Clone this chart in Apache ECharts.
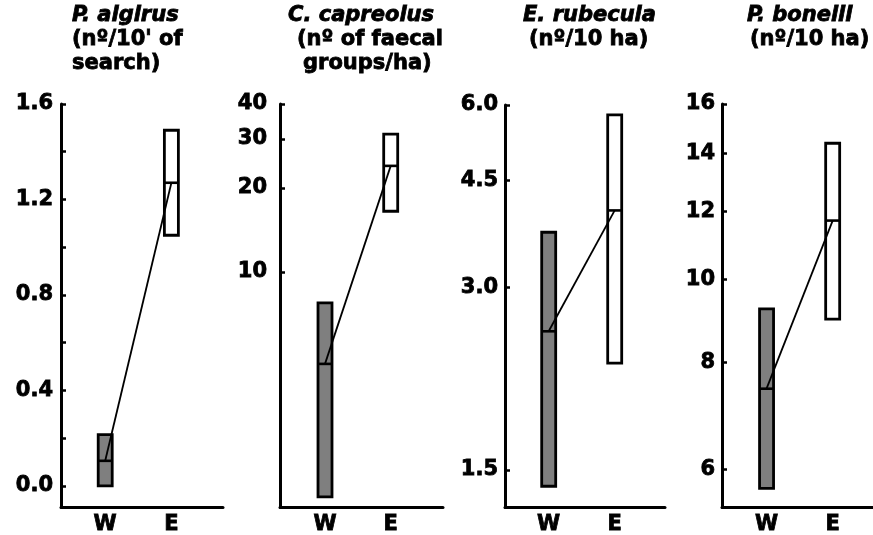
<!DOCTYPE html>
<html>
<head>
<meta charset="utf-8">
<script src="https://cdn.jsdelivr.net/npm/echarts@6/dist/echarts.min.js"></script>
<style>html,body{margin:0;padding:0;background:#fff}#c{width:873px;height:535px}</style>
</head>
<body>
<div id="c"></div>
<script>
// ---- data ----
const groups = ['W', 'E'];
const groupX = [1, 2];

const algirusLow  = [0.0, 1.05];
const algirusMed  = [0.105, 1.27];
const algirusHigh = [0.215, 1.49];

const capreolusLow  = [1.56, 16.5];
const capreolusMed  = [4.68, 24.0];
const capreolusHigh = [7.75, 31.2];

const rubeculaLow  = [1.41, 2.25];
const rubeculaMed  = [2.54, 4.02];
const rubeculaHigh = [3.70, 5.78];

const bonelliLow  = [5.70, 8.98];
const bonelliMed  = [7.45, 11.7];
const bonelliHigh = [9.23, 14.4];

const algirusTicks = [0.0, 0.4, 0.8, 1.2, 1.6];
const algirusMinorTicks = [0.0, 0.2, 0.4, 0.6, 0.8, 1.0, 1.2, 1.4, 1.6];
const capreolusTicks = [10, 20, 30, 40];
const rubeculaTicks = [1.5, 3.0, 4.5, 6.0];
const bonelliTicks = [6, 8, 10, 12, 14, 16];

const algirusTitle = ['P. algirus', "(nº/10' of", 'search)'];
const capreolusTitle = ['C. capreolus', '(nº of faecal', 'groups/ha)'];
const rubeculaTitle = ['E. rubecula', '(nº/10 ha)'];
const bonelliTitle = ['P. bonelli', '(nº/10 ha)'];

// ---- layout ----
const FONT = 'DejaVu Sans';
const lg = Math.log10;
const panels = [
  {low: algirusLow, med: algirusMed, high: algirusHigh, ticks: algirusTicks, minor: algirusMinorTicks,
   log: false, dec: 1, grid: {left: 61, top: 104, width: 162, height: 405.5},
   ymin: -0.091, ymax: 1.6, xmin: 0.332, xmax: 2.78, margin: 8,
   title: algirusTitle, tl: [72, 72, 72]},
  {low: capreolusLow, med: capreolusMed, high: capreolusHigh, ticks: capreolusTicks, minor: null,
   log: true, dec: 0, grid: {left: 280, top: 104, width: 163, height: 405.5},
   ymin: 0.155, ymax: lg(40), xmin: 0.315, xmax: 2.796, margin: 13,
   title: capreolusTitle, tl: [288, 297, 303]},
  {low: rubeculaLow, med: rubeculaMed, high: rubeculaHigh, ticks: rubeculaTicks, minor: null,
   log: true, dec: 1, grid: {left: 505, top: 105, width: 160, height: 404.5},
   ymin: 0.114, ymax: lg(6), xmin: 0.338, xmax: 2.762, margin: 7,
   title: rubeculaTitle, tl: [523, 529]},
  {low: bonelliLow, med: bonelliMed, high: bonelliHigh, ticks: bonelliTicks, minor: null,
   log: true, dec: 0, grid: {left: 722, top: 104, width: 151, height: 405.5},
   ymin: 0.7335, ymax: lg(16), xmin: 0.326, xmax: 2.61, margin: 7,
   title: bonelliTitle, tl: [747, 750]}
];

const txt = {color: '#000', fontFamily: FONT, fontWeight: 'bold', fontSize: 21,
             textBorderColor: '#000', textBorderWidth: 0.8};
const lineTops = [5, 29, 53];

function renderBox(params, api) {
  const x = api.value(0), lo = api.value(1), md = api.value(2), hi = api.value(3);
  const a = api.coord([x, hi]), b = api.coord([x, lo]), m = api.coord([x, md]);
  const w = 14;
  return {type: 'group', children: [
    {type: 'rect', shape: {x: a[0] - w / 2, y: a[1], width: w, height: b[1] - a[1]},
     style: {fill: params.dataIndex === 0 ? '#7f7f7f' : '#ffffff', stroke: '#000', lineWidth: 2.8}},
    {type: 'line', shape: {x1: a[0] - w / 2, y1: m[1], x2: a[0] + w / 2, y2: m[1]},
     style: {stroke: '#000', lineWidth: 2.6}}
  ]};
}

const option = {animation: false, backgroundColor: '#fff', title: [], grid: [], xAxis: [], yAxis: [], series: []};

panels.forEach((p, i) => {
  const tf = p.log ? lg : (v => v);
  p.title.forEach((t, j) => {
    option.title.push({text: t, left: p.tl[j], top: lineTops[j], padding: 0,
      textStyle: Object.assign({}, txt, {fontStyle: j === 0 ? 'italic' : 'normal', fontSize: 21})});
  });
  option.grid.push(p.grid);
  option.xAxis.push({
    type: 'value', gridIndex: i, min: p.xmin, max: p.xmax,
    axisLine: {show: true, onZero: false, lineStyle: {color: '#000', width: 3}},
    axisTick: {show: false}, splitLine: {show: false},
    axisLabel: Object.assign({}, txt, {customValues: groupX, margin: 6,
      formatter: v => groups[groupX.indexOf(v)] || ''})
  });
  option.yAxis.push({
    type: 'value', gridIndex: i, min: p.ymin, max: p.ymax,
    axisLine: {show: true, onZero: false, lineStyle: {color: '#000', width: 3}},
    axisTick: {show: true, inside: true, length: 5, lineStyle: {color: '#000', width: 2.5},
      customValues: (p.minor || p.ticks).map(tf)},
    splitLine: {show: false},
    axisLabel: Object.assign({}, txt, {customValues: p.ticks.map(tf), margin: p.margin,
      formatter: v => (p.log ? Math.pow(10, v) : v).toFixed(p.dec)})
  });
  option.series.push({
    type: 'custom', xAxisIndex: i, yAxisIndex: i, renderItem: renderBox, z: 2, silent: true,
    data: groupX.map((x, k) => [x, tf(p.low[k]), tf(p.med[k]), tf(p.high[k])])
  });
  option.series.push({
    type: 'line', xAxisIndex: i, yAxisIndex: i, symbol: 'none', z: 5, silent: true,
    lineStyle: {color: '#000', width: 1.8},
    data: groupX.map((x, k) => [x, tf(p.med[k])])
  });
});

const chart = echarts.init(document.getElementById('c'));
chart.setOption(option);
</script>
</body>
</html>
